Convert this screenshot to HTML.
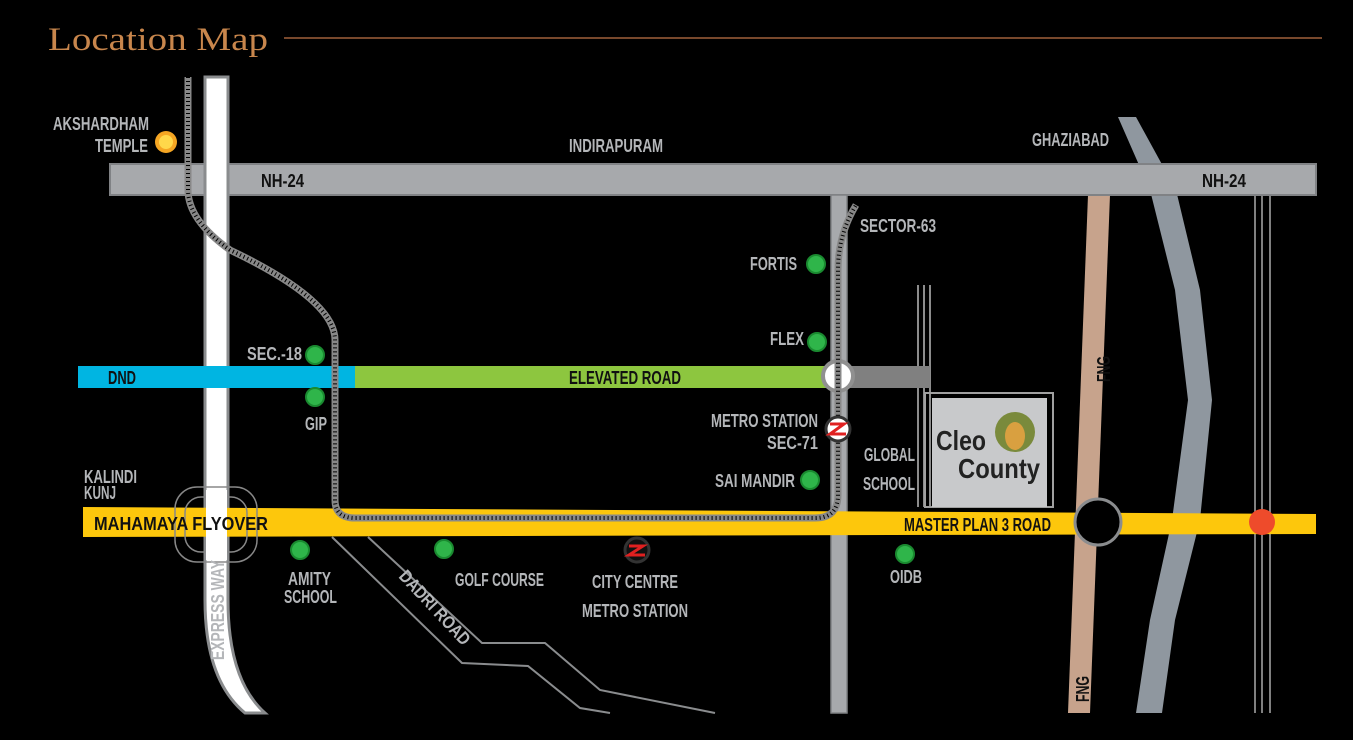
<!DOCTYPE html>
<html><head><meta charset="utf-8"><style>
html,body{margin:0;padding:0;background:#000;width:1353px;height:740px;overflow:hidden}
svg{display:block}
.t{font-family:"Liberation Sans Narrow","Liberation Sans",sans-serif;font-weight:bold;fill:#b4b6b9;font-size:18px}
.d{font-family:"Liberation Sans Narrow","Liberation Sans",sans-serif;font-weight:bold;fill:#111;font-size:18px}
</style></head><body>
<svg width="1353" height="740" viewBox="0 0 1353 740" xmlns="http://www.w3.org/2000/svg">
<rect width="1353" height="740" fill="#000"/>
<text x="48" y="50" font-family="Liberation Serif,serif" font-size="33" fill="#c8864c" textLength="220" lengthAdjust="spacingAndGlyphs">Location Map</text>
<line x1="284" y1="38" x2="1322" y2="38" stroke="#a0603a" stroke-width="1.5"/>

<polygon points="1118,117 1150,190 1175,290 1188,400 1172,520 1150,620 1136,713 1162,713 1175,620 1200,520 1212,400 1200,290 1176,190 1136,117" fill="#8f979f"/>
<g stroke="#aaa" stroke-width="1.5"><line x1="1255" y1="195" x2="1255" y2="713"/><line x1="1262" y1="195" x2="1262" y2="713"/><line x1="1270" y1="195" x2="1270" y2="713"/></g>
<polygon points="1088,195 1110,195 1090,713 1068,713" fill="#c7a38c"/>
<rect x="110" y="164" width="1206" height="31" fill="#a7a9ac" stroke="#808285" stroke-width="2"/>
<g stroke="#bbb" stroke-width="1.5"><line x1="918" y1="285" x2="918" y2="507"/><line x1="924" y1="285" x2="924" y2="507"/><line x1="930" y1="285" x2="930" y2="507"/></g>
<rect x="831" y="195" width="16" height="518" fill="#a7a9ac" stroke="#808285" stroke-width="1.5"/>
<rect x="925" y="393" width="128" height="114" fill="none" stroke="#a0a0a0" stroke-width="2"/>
<rect x="932" y="398" width="115" height="109" fill="#c8c9cb"/>
<text x="936" y="450" font-family="Liberation Sans Narrow,Liberation Sans,sans-serif" font-weight="bold" font-size="28" fill="#222" textLength="50" lengthAdjust="spacingAndGlyphs">Cleo</text>
<text x="958" y="478" font-family="Liberation Sans Narrow,Liberation Sans,sans-serif" font-weight="bold" font-size="28" fill="#222" textLength="82" lengthAdjust="spacingAndGlyphs">County</text>
<ellipse cx="1015" cy="432" rx="20" ry="20" fill="#7a8a3c"/><ellipse cx="1015" cy="436" rx="10" ry="14" fill="#d9a040"/>
<path d="M205,77 L205,600 Q205,680 245,713 L265,713 Q228,680 228,600 L228,77 Z" fill="#fff" stroke="#8a8c8e" stroke-width="3"/>
<rect x="78" y="366" width="278" height="22" fill="#00b5e2"/>
<rect x="355" y="366" width="476" height="22" fill="#8dc63f"/>
<rect x="846" y="366" width="84" height="22" fill="#808080"/>
<circle cx="838" cy="376" r="15" fill="#fff" stroke="#909090" stroke-width="4"/>
<path d="M83,507 L1316,514 L1316,534 L83,537 Z" fill="#fdc70c"/>
<g fill="none" stroke="#888" stroke-width="1.5"><rect x="175" y="487" width="82" height="75" rx="22"/><rect x="185" y="497" width="62" height="55" rx="16"/></g>
<rect x="206" y="490" width="21" height="70" fill="#fff"/>
<g fill="none" stroke="#8a8c8e" stroke-width="2"><polyline points="332,537 462,663 528,666 580,708 610,713"/><polyline points="368,537 482,643 545,643 600,690 715,713"/></g>
<text class="t" transform="translate(398,577) rotate(47)" font-size="16" textLength="95" lengthAdjust="spacingAndGlyphs">DADRI ROAD</text>
<g fill="none">
<path d="M188,77 L188,190 Q188,220 230,250 Q335,300 335,340 L335,500 Q335,518 355,518 L815,518 Q838,518 838,495 L838,270 Q838,235 856,205" stroke="#888" stroke-width="7"/>
<path d="M188,77 L188,190 Q188,220 230,250 Q335,300 335,340 L335,500 Q335,518 355,518 L815,518 Q838,518 838,495 L838,270 Q838,235 856,205" stroke="#000" stroke-width="4" stroke-dasharray="1 3"/>
</g>
<circle cx="1098" cy="522" r="23" fill="#000" stroke="#8a8c8e" stroke-width="3"/>
<circle cx="1262" cy="522" r="13" fill="#ee4b2b"/>
<circle cx="166" cy="142" r="11" fill="#f5a623"/><circle cx="166" cy="142" r="7" fill="#ffd84a"/>
<g fill="#2fb54a" stroke="#1a8a30" stroke-width="2">
<circle cx="315" cy="355" r="9"/><circle cx="315" cy="397" r="9"/><circle cx="300" cy="550" r="9"/><circle cx="444" cy="549" r="9"/><circle cx="816" cy="264" r="9"/><circle cx="817" cy="342" r="9"/><circle cx="810" cy="480" r="9"/><circle cx="905" cy="554" r="9"/>
</g>
<g><circle cx="838" cy="429" r="12" fill="#fff" stroke="#333" stroke-width="3"/><path d="M830,424 h14 l-14,10 h16" stroke="#e02020" stroke-width="3" fill="none"/></g>
<g><circle cx="637" cy="550" r="12" fill="#111" stroke="#333" stroke-width="3"/><path d="M629,546 h14 l-14,9 h16" stroke="#e02020" stroke-width="3" fill="none"/></g>
<g lengthAdjust="spacingAndGlyphs">
<text class="t" x="53" y="130" textLength="96" lengthAdjust="spacingAndGlyphs">AKSHARDHAM</text>
<text class="t" x="95" y="152" textLength="53" lengthAdjust="spacingAndGlyphs">TEMPLE</text>
<text class="t" x="569" y="152" textLength="94" lengthAdjust="spacingAndGlyphs">INDIRAPURAM</text>
<text class="t" x="1032" y="146" textLength="77" lengthAdjust="spacingAndGlyphs">GHAZIABAD</text>
<text class="d" x="261" y="187" textLength="43" lengthAdjust="spacingAndGlyphs">NH-24</text>
<text class="d" x="1202" y="187" textLength="44" lengthAdjust="spacingAndGlyphs">NH-24</text>
<text class="t" x="860" y="232" textLength="76" lengthAdjust="spacingAndGlyphs">SECTOR-63</text>
<text class="t" x="750" y="270" textLength="47" lengthAdjust="spacingAndGlyphs">FORTIS</text>
<text class="t" x="770" y="345" textLength="34" lengthAdjust="spacingAndGlyphs">FLEX</text>
<text class="t" x="247" y="360" textLength="55" lengthAdjust="spacingAndGlyphs">SEC.-18</text>
<text class="d" x="108" y="384" fill="#0b3550" textLength="28" lengthAdjust="spacingAndGlyphs">DND</text>
<text class="d" x="569" y="384" textLength="112" lengthAdjust="spacingAndGlyphs">ELEVATED ROAD</text>
<text class="t" x="305" y="430" textLength="22" lengthAdjust="spacingAndGlyphs">GIP</text>
<text class="t" x="711" y="427" textLength="107" lengthAdjust="spacingAndGlyphs">METRO STATION</text>
<text class="t" x="767" y="449" textLength="51" lengthAdjust="spacingAndGlyphs">SEC-71</text>
<text class="t" x="864" y="461" textLength="51" lengthAdjust="spacingAndGlyphs">GLOBAL</text>
<text class="t" x="863" y="490" textLength="52" lengthAdjust="spacingAndGlyphs">SCHOOL</text>
<text class="t" x="715" y="487" textLength="80" lengthAdjust="spacingAndGlyphs">SAI MANDIR</text>
<text class="t" x="84" y="483" textLength="53" lengthAdjust="spacingAndGlyphs">KALINDI</text>
<text class="t" x="84" y="499" textLength="32" lengthAdjust="spacingAndGlyphs">KUNJ</text>
<text class="d" x="94" y="530" font-size="20" textLength="174" lengthAdjust="spacingAndGlyphs">MAHAMAYA FLYOVER</text>
<text class="d" x="904" y="531" textLength="147" lengthAdjust="spacingAndGlyphs">MASTER PLAN 3 ROAD</text>
<text class="t" x="288" y="585" textLength="43" lengthAdjust="spacingAndGlyphs">AMITY</text>
<text class="t" x="284" y="603" textLength="53" lengthAdjust="spacingAndGlyphs">SCHOOL</text>
<text class="t" x="455" y="586" textLength="89" lengthAdjust="spacingAndGlyphs">GOLF COURSE</text>
<text class="t" x="592" y="588" textLength="86" lengthAdjust="spacingAndGlyphs">CITY CENTRE</text>
<text class="t" x="582" y="617" textLength="106" lengthAdjust="spacingAndGlyphs">METRO STATION</text>
<text class="t" x="890" y="583" textLength="32" lengthAdjust="spacingAndGlyphs">OIDB</text>
</g>
<text class="t" transform="translate(224,660) rotate(-90)" font-size="15" fill="#999" textLength="100" lengthAdjust="spacingAndGlyphs">EXPRESS WAY</text>
<text class="d" transform="translate(1110,382) rotate(-90)" font-size="15" textLength="26" lengthAdjust="spacingAndGlyphs">FNG</text>
<text class="d" transform="translate(1089,702) rotate(-90)" font-size="15" textLength="26" lengthAdjust="spacingAndGlyphs">FNG</text>
</svg>
</body></html>
